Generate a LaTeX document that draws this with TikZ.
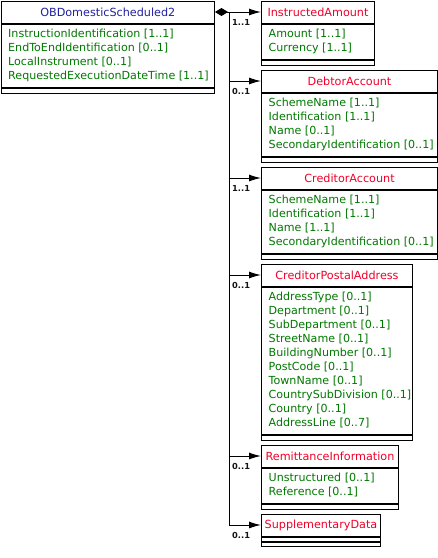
\documentclass[tikz,border=0pt]{standalone}
\usepackage{fontspec}
\setmainfont{DejaVu Sans}
\usetikzlibrary{arrows.meta}
\definecolor{titlenavy}{RGB}{32,32,160}
\definecolor{titlered}{RGB}{240,0,40}
\definecolor{attrgreen}{RGB}{0,120,0}
\definecolor{multcol}{RGB}{20,20,20}
\tikzset{
  hdr/.style={draw, line width=1pt, minimum height=22pt, inner sep=0pt, text=titlered,
    font=\fontsize{11.2}{14}\selectfont},
  bodybox/.style={draw, line width=1pt, inner sep=0pt},
  footbox/.style={draw, line width=1pt, inner sep=0pt, minimum height=5pt},
  attr/.style={inner sep=0pt, align=left, text=attrgreen, font=\fontsize{11.1}{14}\selectfont, anchor=west},
  mult/.style={inner sep=0pt, anchor=west, text=multcol, font=\fontsize{8.3}{9}\selectfont\bfseries},
  arr/.style={line width=1pt, -{Latex[length=12pt,width=7pt]}},
  comp/.style={line width=1pt, {Diamond[length=13pt,width=8pt]}-{Latex[length=12pt,width=7pt]}}
}
\newcommand\umlclass[8]{%
  \node[hdr, minimum width=#4, anchor=north west] (h#1) at (#2,#3) {#5};
  \node[bodybox, minimum width=#4, minimum height=#6, anchor=north west] (b#1) at (h#1.south west) {};
  \node[footbox, minimum width=#4, minimum height=#7, anchor=north west] (f#1) at (b#1.south west) {};
  \node[attr, xshift=7.5pt] (a#1) at (b#1.west) {#8};
}
\begin{document}
\begin{tikzpicture}[x=1pt, y=-1pt]
\useasboundingbox (0,0) rectangle (438,558);
\umlclass{Main}{0.5}{0.5}{213.5pt}{\textcolor{titlenavy}{OBDomesticScheduled2}}{63pt}{5pt}{InstructionIdentification [1..1]\\EndToEndIdentification [0..1]\\LocalInstrument [0..1]\\RequestedExecutionDateTime [1..1]}
\umlclass{IA}{261}{0.5}{113pt}{InstructedAmount}{35pt}{5pt}{Amount [1..1]\\Currency [1..1]}
\umlclass{DA}{261}{69.5}{176pt}{DebtorAccount}{63pt}{5pt}{SchemeName [1..1]\\Identification [1..1]\\Name [0..1]\\SecondaryIdentification [0..1]}
\umlclass{CA}{261}{166.5}{176pt}{CreditorAccount}{63pt}{5pt}{SchemeName [1..1]\\Identification [1..1]\\Name [1..1]\\SecondaryIdentification [0..1]}
\umlclass{CPA}{261}{263.5}{151pt}{CreditorPostalAddress}{147pt}{5pt}{AddressType [0..1]\\Department [0..1]\\SubDepartment [0..1]\\StreetName [0..1]\\BuildingNumber [0..1]\\PostCode [0..1]\\TownName [0..1]\\CountrySubDivision [0..1]\\Country [0..1]\\AddressLine [0..7]}
\umlclass{RI}{261}{444.5}{137pt}{RemittanceInformation}{35pt}{5pt}{Unstructured [0..1]\\Reference [0..1]}
\umlclass{SD}{261}{513.5}{119pt}{SupplementaryData}{4pt}{4pt}{}
% connectors
\draw[comp] (hMain.east) -- (hIA.west);
\path (hMain.east) ++(14,0) coordinate (trunk);
\draw[arr] (trunk) |- (hDA.west);
\draw[arr] (trunk) |- (hCA.west);
\draw[arr] (trunk) |- (hCPA.west);
\draw[arr] (trunk) |- (hRI.west);
\draw[arr] (trunk) |- (hSD.west);
% multiplicities
\node[mult] (mIA) at ([xshift=-29pt,yshift=-10.5pt]hIA.west) {1..1};
\node[mult] (mDA) at ([xshift=-29pt,yshift=-10.5pt]hDA.west) {0..1};
\node[mult] (mCA) at ([xshift=-29pt,yshift=-10.5pt]hCA.west) {1..1};
\node[mult] (mCPA) at ([xshift=-29pt,yshift=-10.5pt]hCPA.west) {0..1};
\node[mult] (mRI) at ([xshift=-29pt,yshift=-10.5pt]hRI.west) {0..1};
\node[mult] (mSD) at ([xshift=-29pt,yshift=-10.5pt]hSD.west) {0..1};
\end{tikzpicture}
\end{document}
